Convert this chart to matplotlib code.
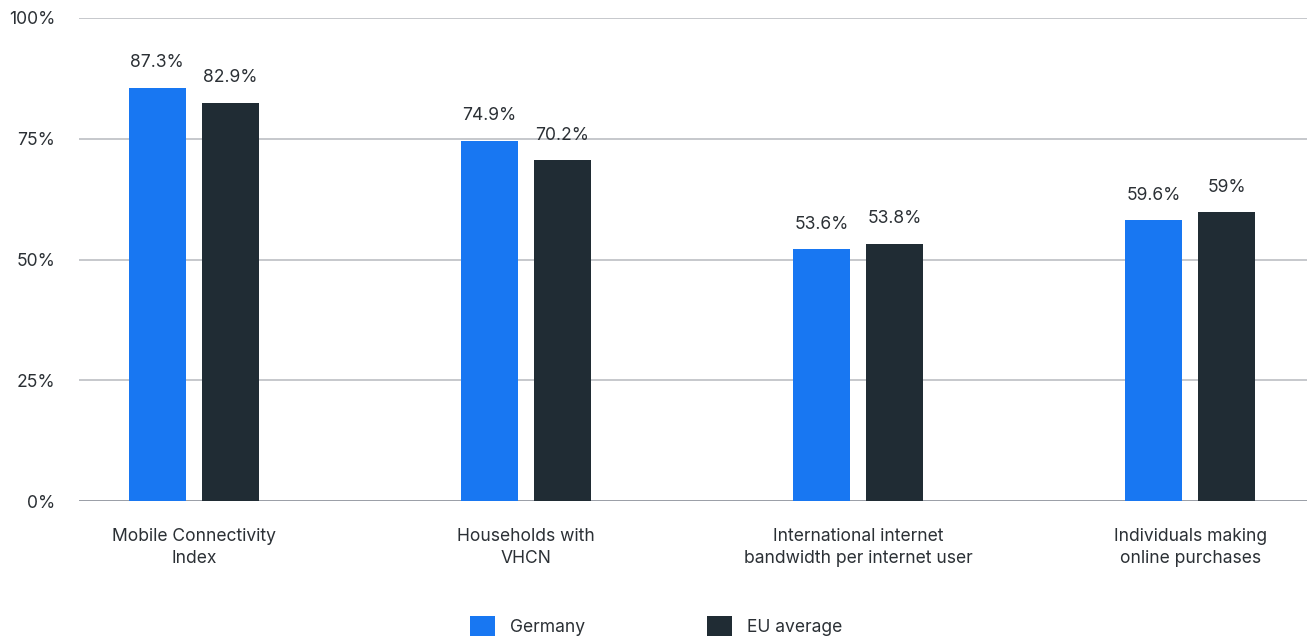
import matplotlib
matplotlib.use("Agg")
import matplotlib.pyplot as plt
from matplotlib.patches import Patch
import numpy as np

categories = ["Mobile Connectivity\nIndex", "Households with\nVHCN",
              "International internet\nbandwidth per internet user",
              "Individuals making\nonline purchases"]
series_names = ["Germany", "EU average"]
germany_vals = [85.6, 74.6, 52.2, 58.2]
eu_vals = [82.5, 70.5, 53.3, 59.8]
germany_labels = ["87.3%", "74.9%", "53.6%", "59.6%"]
eu_labels = ["82.9%", "70.2%", "53.8%", "59%"]
yticks = [0, 25, 50, 75, 100]
ytick_labels = ["0%", "25%", "50%", "75%", "100%"]

blue = "#1877F2"
dark = "#202C34"
text_c = "#2B3035"

plt.rcParams['font.family'] = ['Inter', 'DejaVu Sans']
fs = 12.6

fig = plt.figure(figsize=(13.07, 6.4), dpi=100)
ax = fig.add_axes([79/1307, 1-501/640, 1-79/1307, (501-18)/640])

x = np.arange(len(categories))
w = 0.172
off = 0.11
ax.bar(x - off, germany_vals, width=w, color=blue, zorder=3)
ax.bar(x + off, eu_vals, width=w, color=dark, zorder=3)

for xi, v, lab in zip(x - off, germany_vals, germany_labels):
    ax.annotate(lab, (xi, v), xytext=(0, 17.8), textcoords="offset points",
                ha="center", va="center", fontsize=fs, color=text_c)
for xi, v, lab in zip(x + off, eu_vals, eu_labels):
    ax.annotate(lab, (xi, v), xytext=(0, 17.8), textcoords="offset points",
                ha="center", va="center", fontsize=fs, color=text_c)

ax.set_xlim(-0.346, 3.352)
ax.set_ylim(0, 100)
ax.set_yticks(yticks)
ax.set_yticklabels(ytick_labels)
ax.set_xticks(x)
ax.set_xticklabels(categories, linespacing=1.35)
ax.tick_params(axis="y", length=0, pad=17.0, labelsize=fs, labelcolor=text_c)
ax.tick_params(axis="x", length=0, pad=19.5, labelsize=fs, labelcolor=text_c)

for t in yticks:
    ax.axhline(t, color="#9A9EA6" if t == 0 else "#C6C8CC", lw=1.4, zorder=1)
for s in ax.spines.values():
    s.set_visible(False)
ax.set_facecolor("white")

handles = [Patch(facecolor=blue, label=series_names[0]),
           Patch(facecolor=dark, label=series_names[1])]
fig.legend(handles=handles, loc="center", bbox_to_anchor=(0.502, 1-626/640),
           ncol=2, frameon=False, fontsize=fs, handlelength=1.4,
           handleheight=1.4, handletextpad=0.85, columnspacing=7.0,
           borderpad=0, labelcolor=text_c)

fig.savefig("out.png", dpi=100, facecolor="white")
